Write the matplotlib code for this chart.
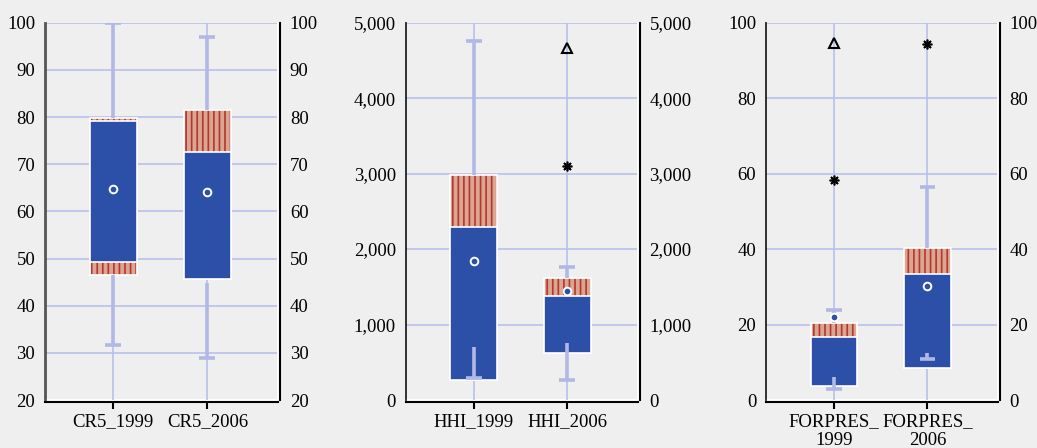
"""
Box plots of concentration indices (CR5, HHI, FORPRES), 1999 vs 2006
"""
import matplotlib
matplotlib.use('Agg')
import matplotlib.pyplot as plt
from matplotlib.patches import Rectangle
from matplotlib.ticker import FuncFormatter

# ---- data ----
labels = ['CR5_1999', 'CR5_2006', 'HHI_1999', 'HHI_2006', 'FORPRES_\n1999', 'FORPRES_\n2006']
panel = [0, 0, 1, 1, 2, 2]
pos = [1, 2, 1, 2, 1, 2]

# full box (hatched red) and the blue part drawn over it
box_lo = [46.6, 45.6, 265, 627, 3.8, 8.5]
box_hi = [79.8, 81.5, 2981, 1612, 20.5, 40.2]
blue_lo = [49.3, 45.6, 265, 627, 3.8, 8.5]
blue_hi = [79.2, 72.5, 2297, 1382, 16.6, 33.4]

# whiskers
upper_cap = [100, 97.0, 4753, 1758, 23.8, 56.5]
lower_cap = [31.6, 29.0, 287, 265, 2.8, 10.9]
lower_top = [46.6, 44.9, 707, 760, 6.2, 12.5]

means = [64.8, 64.0, 1842, 1449, 22.0, 30.2]

# outliers
star_box = [3, 4, 5]
star_val = [3105, 58.2, 94.4]
tri_box = [3, 4]
tri_val = [4660, 94.7]

ylims = [(20, 100), (0, 5000), (0, 100)]
ysteps = [10, 1000, 20]

# ---- style ----
BG = '#efefef'
BLUE = '#2c4fa8'
RED_BG = '#dca592'
RED_LINE = '#b3372b'
LAV = '#b2b8e6'
GRID = '#b9bfec'

plt.rcParams['font.family'] = ['Liberation Serif', 'DejaVu Serif']
plt.rcParams['hatch.linewidth'] = 1.2

fig = plt.figure(figsize=(10.37, 4.48), dpi=100, facecolor=BG)
lefts = [45, 405.7, 766]
widths = [233, 232, 231.7]

axes = []
for p in range(3):
    ax = fig.add_axes([lefts[p] / 1037, 48 / 448, widths[p] / 1037, 377.3 / 448])
    ax.set_facecolor(BG)
    lo, hi = ylims[p]
    ax.set_ylim(lo, hi)
    ax.set_xlim(0.275, 2.75)
    ax.set_yticks(range(lo, hi + 1, ysteps[p]))
    ax.yaxis.grid(True, color=GRID, linewidth=1.2, zorder=0)
    ax.set_axisbelow(True)
    if p == 1:
        ax.yaxis.set_major_formatter(FuncFormatter(lambda v, _: f'{int(v):,}'))
    ax.tick_params(axis='y', length=0, labelsize=13.5, pad=7, labelright=True)
    ax.tick_params(axis='x', length=5, width=1.5, direction='out', labelsize=13.5, pad=3)
    ax.spines['top'].set_visible(False)
    ax.spines['left'].set_color('#555555' if p == 0 else '#222222')
    ax.spines['left'].set_linewidth(2 if p == 0 else 1.3)
    ax.spines['bottom'].set_linewidth(1.5)
    ax.spines['right'].set_linewidth(1.5)
    ax.spines['bottom'].set_position(('outward', 1.5))
    ax.spines['right'].set_position(('outward', 1.5))
    ax.axhline(lo, color='white', linewidth=1.5, zorder=1, clip_on=False)
    ax.axvline(2.75, color='white', linewidth=1.5, zorder=1, clip_on=False)
    axes.append(ax)

for p in range(3):
    idx = [i for i in range(6) if panel[i] == p]
    axes[p].set_xticks([pos[i] for i in idx])
    axes[p].set_xticklabels([labels[i] for i in idx], linespacing=1.15)

half = 0.248
cap = 0.085
for i in range(6):
    ax = axes[panel[i]]
    x = pos[i]
    # thin category line
    ax.axvline(x, color=GRID, linewidth=1.2, zorder=1)
    # hatched full box, blue part on top
    ax.add_patch(Rectangle((x - half, box_lo[i]), 2 * half, box_hi[i] - box_lo[i],
                           facecolor=RED_BG, edgecolor=RED_LINE, hatch='|||',
                           linewidth=0, zorder=2))
    ax.add_patch(Rectangle((x - half, box_lo[i]), 2 * half, box_hi[i] - box_lo[i],
                           facecolor='none', edgecolor='white', linewidth=1.2, zorder=2.1))
    ax.add_patch(Rectangle((x - half, blue_lo[i]), 2 * half, blue_hi[i] - blue_lo[i],
                           facecolor=BLUE, edgecolor='white', linewidth=1.2, zorder=3))
    # whiskers
    ax.plot([x, x], [box_hi[i], upper_cap[i]], color=LAV, linewidth=2.6,
            solid_capstyle='butt', zorder=4)
    ax.plot([x - cap, x + cap], [upper_cap[i], upper_cap[i]], color=LAV,
            linewidth=2.6, solid_capstyle='butt', zorder=4)
    ax.plot([x, x], [lower_cap[i], lower_top[i]], color=LAV, linewidth=2.6,
            solid_capstyle='butt', zorder=4)
    ax.plot([x - cap, x + cap], [lower_cap[i], lower_cap[i]], color=LAV,
            linewidth=2.6, solid_capstyle='butt', zorder=4)
    # mean
    ax.plot(x, means[i], marker='o', markersize=5.5, markerfacecolor=BLUE,
            markeredgecolor='white', markeredgewidth=1.4, zorder=5)

for b, v in zip(star_box, star_val):
    axes[panel[b]].plot(pos[b], v, marker=(8, 2, 0), markersize=7, color='black',
                        markeredgewidth=1.2, zorder=6)
for b, v in zip(tri_box, tri_val):
    axes[panel[b]].plot(pos[b], v, marker='^', markersize=7.5, markerfacecolor='none',
                        markeredgecolor='black', markeredgewidth=1.5, zorder=6)

fig.savefig('out.png', dpi=100, facecolor=BG)
